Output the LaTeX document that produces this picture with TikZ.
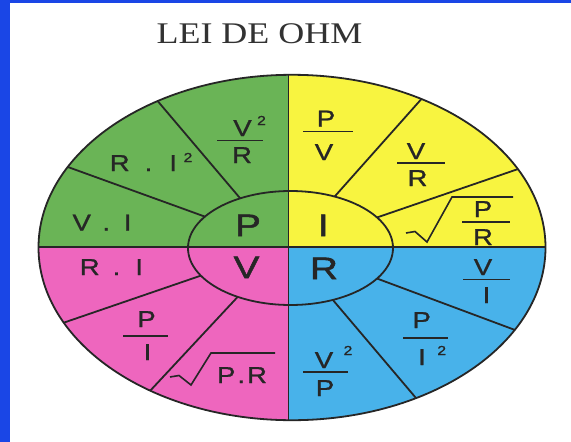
\documentclass[tikz,border=0pt]{standalone}
\usepackage{fontspec}
\usetikzlibrary{calc}
\newfontfamily\labfont[FakeStretch=1.2,FakeBold=1.2]{Liberation Sans}
\newfontfamily\bigfont[FakeStretch=1.25,FakeBold=1.6]{Liberation Sans}
\newfontfamily\titfont[FakeStretch=1.2]{Liberation Serif}
\definecolor{bgblue}{RGB}{26,70,230}
\definecolor{ohmgreen}{RGB}{106,180,86}
\definecolor{ohmyellow}{RGB}{248,244,64}
\definecolor{ohmpink}{RGB}{238,102,190}
\definecolor{ohmblue}{RGB}{72,178,234}
\definecolor{ink}{RGB}{38,38,38}
\definecolor{titink}{RGB}{50,50,50}
\begin{document}
\begin{tikzpicture}[x=1pt,y=-1pt,
  lbl/.style={font={\labfont\fontsize{23}{26}\selectfont}, text=ink, inner sep=0pt, anchor=base},
  big/.style={font={\bigfont\fontsize{31}{34}\selectfont}, text=ink, inner sep=0pt, anchor=base},
  supnum/.style={font={\labfont\fontsize{13}{15}\selectfont}, text=ink, inner sep=0pt, anchor=base},
  rule/.style={draw=ink, line width=1.8pt},
  fracbar/.style={draw=ink, line width=1.7pt},
  radical/.style={draw=ink, line width=1.6pt, line join=miter}]

\useasboundingbox (0,0) rectangle (571,442);
\fill[bgblue] (0,0) rectangle (571,442);
\fill[white] (10,3) rectangle (571,442);

\node[font={\titfont\fontsize{30}{34}\selectfont}, text=titink, inner sep=0pt, anchor=base] (title) at (259.5,43) {LEI DE OHM};

\coordinate (oc) at (292,247.5);
\coordinate (ic) at (290.5,248);
\coordinate (vx) at (288.5,247);

\begin{scope}
  \clip (oc) ellipse [x radius=253.5pt, y radius=172.7pt];
  \fill[ohmgreen] (vx) rectangle (0,0);
  \fill[ohmyellow] (vx) rectangle (571,0);
  \fill[ohmpink] (vx) rectangle (0,442);
  \fill[ohmblue] (vx) rectangle (571,442);
  \draw[rule] (288.5,0) -- (288.5,442);
  \draw[rule] (0,247) -- (571,247);
\end{scope}

\foreach \a/\b in {119.4/122, 146.6/152.2, 64.5/59.3, 32.4/27, 209/205.8, 239/236, -32.4/-28.5, -65.6/-60.7}
  \draw[rule] ($(ic)+(\a:102.5pt and 57pt)$) -- ($(oc)+(\b:253.5pt and 172.7pt)$);

\draw[rule] (ic) ellipse [x radius=102.5pt, y radius=57pt];
\draw[rule] (oc) ellipse [x radius=253.5pt, y radius=172.7pt];

% centre letters
\node[big] (cP) at (248,236) {P};
\node[big] (cI) at (323.3,236) {I};
\node[big] (cV) at (246.5,278) {V};
\node[big] (cR) at (324,279) {R};

% green
\node[lbl] (gVI) at (102,230.5) {V\hspace{11.5pt}.\hspace{13.7pt}I};
\node[lbl] (gRI) at (143.4,171) {R\hspace{15pt}.\hspace{17pt}I};
\node[supnum] (gRIs) at (188,162) {2};
\node[lbl] (gVRn) at (242.5,136) {V};
\node[supnum] (gVRs) at (261.5,125) {2};
\draw[fracbar] (217,140.5) -- (262.5,140.5);
\node[lbl] (gVRd) at (242,163) {R};

% yellow
\node[lbl] (yPVn) at (326,126.5) {P};
\draw[fracbar] (303,131.5) -- (353,131.5);
\node[lbl] (yPVd) at (324,160) {V};
\node[lbl] (yVRn) at (416,159) {V};
\draw[fracbar] (397,163) -- (445,163);
\node[lbl] (yVRd) at (417.5,186) {R};
\draw[radical] (406,233) -- (415,231.5) -- (427,242) -- (452,197) -- (513,197);
\node[lbl] (ySPn) at (483,217) {P};
\draw[fracbar] (462,222) -- (510,222);
\node[lbl] (ySPd) at (483,245) {R};

% pink
\node[lbl] (pRI) at (111.4,275) {R\hspace{13pt}.\hspace{15pt}I};
\node[lbl] (pPIn) at (146.5,327) {P};
\draw[fracbar] (123,336) -- (168,336);
\node[lbl] (pPId) at (147.5,360) {I};
\draw[radical] (170,377) -- (179,375.5) -- (191,385) -- (211,353) -- (275,353);
\node[lbl] (pPR) at (242,383) {P\hspace{2pt}.\hspace{2pt}R};

% blue
\node[lbl] (bVIn) at (483,275) {V};
\draw[fracbar] (463,279.5) -- (510,279.5);
\node[lbl] (bVId) at (486.5,303) {I};
\node[lbl] (bPIn) at (421.7,328) {P};
\draw[fracbar] (403,338.3) -- (448,338.3);
\node[lbl] (bPId) at (422,365) {I};
\node[supnum] (bPIs) at (441.7,355) {2};
\node[lbl] (bVPn) at (324,368) {V};
\node[supnum] (bVPs) at (348,355) {2};
\draw[fracbar] (303,372) -- (348,372);
\node[lbl] (bVPd) at (325,396) {P};
\end{tikzpicture}
\end{document}
